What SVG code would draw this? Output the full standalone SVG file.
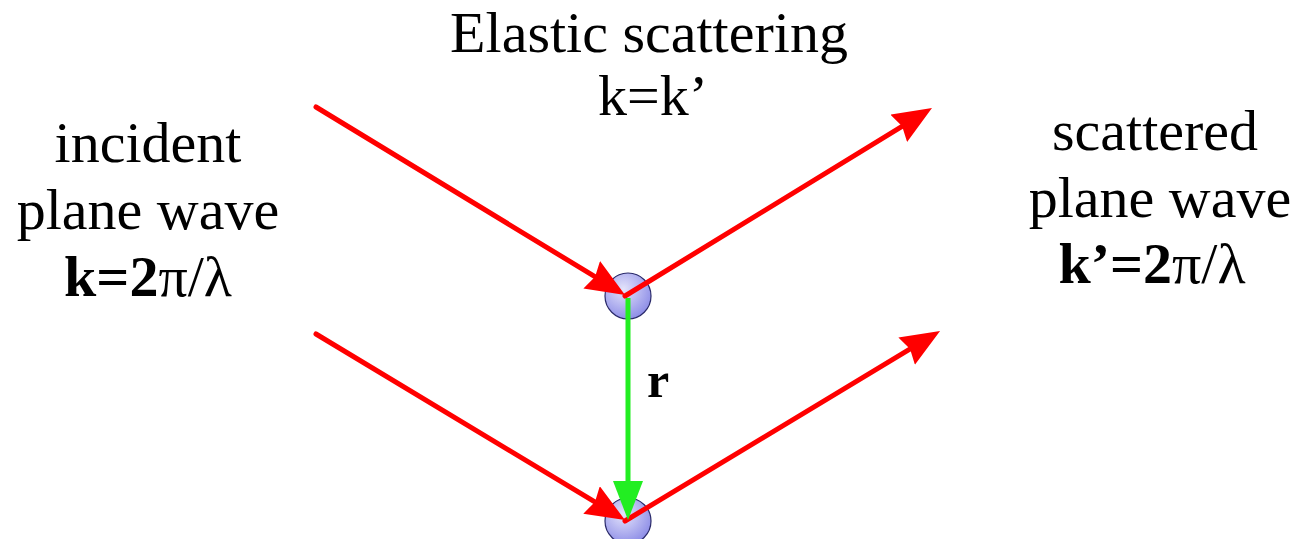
<svg xmlns="http://www.w3.org/2000/svg" width="1298" height="539" viewBox="0 0 1298 539">
  <style>
    .lbl { font-family: "Liberation Serif", "Times New Roman", serif; font-size: 58px; fill: #000; text-anchor: middle; }
    .b { font-weight: bold; }
    .red { stroke: #ff0000; stroke-width: 5; fill: none; stroke-linecap: round; }
    .grn { stroke: #22ee22; stroke-width: 5; fill: none; }
    .atom { fill: url(#atomGrad); stroke: #2a2a6a; stroke-width: 1.2; }
  </style>
  <defs>
    <radialGradient id="atomGrad" cx="0.4" cy="0.35" r="0.7">
      <stop offset="0" stop-color="#e4e4fb"/>
      <stop offset="1" stop-color="#8a8ae6"/>
    </radialGradient>
    <marker id="redHead" markerUnits="userSpaceOnUse" markerWidth="42" markerHeight="34" refX="24" refY="16" orient="auto">
      <path d="M0,0 L39,16 L0,32 L4,16 Z" fill="#ff0000"/>
    </marker>
    <marker id="grnHead" markerUnits="userSpaceOnUse" markerWidth="42" markerHeight="34" refX="24" refY="15" orient="auto">
      <path d="M0,0 L39,15 L0,30 Z" fill="#22ee22"/>
    </marker>
  </defs>

  <g id="title">
    <text class="lbl" x="649" y="52">Elastic scattering</text>
    <text class="lbl" x="653" y="115">k=k’</text>
  </g>
  <g id="incident-label">
    <text class="lbl" x="148" y="162">incident</text>
    <text class="lbl" x="148" y="229">plane wave</text>
    <text class="lbl" x="148" y="296"><tspan class="b">k=2</tspan>π/λ</text>
  </g>
  <g id="scattered-label">
    <text class="lbl" x="1155" y="150">scattered</text>
    <text class="lbl" x="1160" y="217">plane wave</text>
    <text class="lbl" x="1152" y="283"><tspan class="b">k’=2</tspan>π/λ</text>
  </g>

  <g id="atom1"><circle class="atom" cx="628" cy="296" r="23"/></g>
  <g id="atom2"><circle class="atom" cx="628" cy="521" r="23"/></g>

  <g id="connectors">
    <line class="red" x1="316" y1="107" x2="612.2" y2="287.2" marker-end="url(#redHead)"/>
    <line class="red" x1="316" y1="334" x2="612.1" y2="512.3" marker-end="url(#redHead)"/>
    <line class="red" x1="625" y1="296" x2="919.2" y2="115.8" marker-end="url(#redHead)"/>
    <line class="red" x1="625" y1="521" x2="927.2" y2="338.7" marker-end="url(#redHead)"/>
    <line class="grn" x1="628" y1="298" x2="628" y2="505" marker-end="url(#grnHead)"/>
  </g>

  <g id="r-label">
    <text class="lbl b" x="658" y="397" style="font-size:50px">r</text>
  </g>
</svg>
